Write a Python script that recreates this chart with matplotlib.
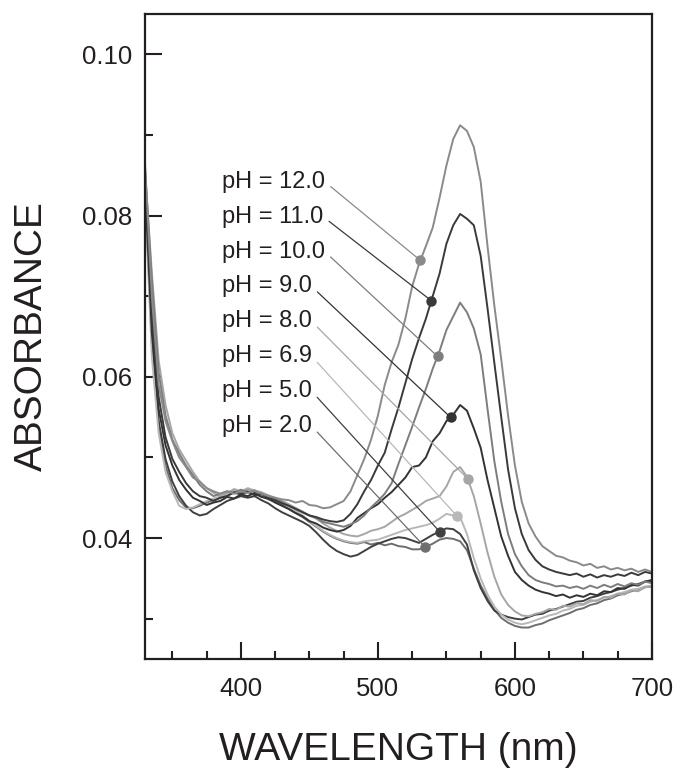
import numpy as np
import matplotlib
matplotlib.use('Agg')
import matplotlib.pyplot as plt

plt.rcParams['font.family'] = ['Liberation Sans', 'DejaVu Sans']

# wavelength grid (nm), 5 nm steps
wl = np.arange(330, 701, 5)

ph_12 = [0.0865, 0.0700, 0.0590, 0.0545, 0.0520, 0.0500, 0.0488, 0.0475, 0.0470, 0.0462,
         0.0458, 0.0455, 0.0458, 0.0455, 0.0458, 0.0456, 0.0459, 0.0455, 0.0452, 0.0450,
         0.0448, 0.0447, 0.0444, 0.0446, 0.0441, 0.0440, 0.0437, 0.0438, 0.0442, 0.0446,
         0.0458, 0.0478, 0.0498, 0.0522, 0.0552, 0.0590, 0.0618, 0.0640, 0.0672, 0.0712,
         0.0740, 0.0762, 0.0785, 0.0822, 0.0862, 0.0895, 0.0912, 0.0905, 0.0885, 0.0842,
         0.0762, 0.0688, 0.0622, 0.0552, 0.0490, 0.0445, 0.0418, 0.0402, 0.0390, 0.0384,
         0.0378, 0.0376, 0.0372, 0.0370, 0.0366, 0.0368, 0.0363, 0.0365, 0.0361, 0.0363,
         0.0360, 0.0362, 0.0358, 0.0361, 0.0358]
ph_11 = [0.0850, 0.0680, 0.0575, 0.0525, 0.0498, 0.0482, 0.0468, 0.0458, 0.0452, 0.0450,
         0.0446, 0.0450, 0.0452, 0.0457, 0.0455, 0.0458, 0.0453, 0.0455, 0.0450, 0.0447,
         0.0443, 0.0440, 0.0436, 0.0432, 0.0428, 0.0426, 0.0423, 0.0421, 0.0420, 0.0422,
         0.0430, 0.0442, 0.0458, 0.0472, 0.0490, 0.0506, 0.0535, 0.0562, 0.0592, 0.0622,
         0.0648, 0.0672, 0.0700, 0.0728, 0.0765, 0.0788, 0.0802, 0.0796, 0.0788, 0.0750,
         0.0685, 0.0617, 0.0550, 0.0485, 0.0437, 0.0405, 0.0385, 0.0373, 0.0365, 0.0361,
         0.0358, 0.0356, 0.0354, 0.0356, 0.0352, 0.0355, 0.0351, 0.0354, 0.0352, 0.0355,
         0.0353, 0.0357, 0.0354, 0.0358, 0.0356]
ph_10 = [0.0860, 0.0720, 0.0605, 0.0552, 0.0522, 0.0505, 0.0490, 0.0478, 0.0466, 0.0458,
         0.0452, 0.0455, 0.0458, 0.0456, 0.0460, 0.0457, 0.0459, 0.0454, 0.0452, 0.0448,
         0.0445, 0.0440, 0.0437, 0.0432, 0.0428, 0.0425, 0.0420, 0.0418, 0.0416, 0.0414,
         0.0417, 0.0421, 0.0428, 0.0438, 0.0446, 0.0455, 0.0468, 0.0492, 0.0515, 0.0538,
         0.0562, 0.0585, 0.0610, 0.0632, 0.0658, 0.0675, 0.0692, 0.0680, 0.0660, 0.0628,
         0.0560, 0.0495, 0.0445, 0.0405, 0.0380, 0.0365, 0.0354, 0.0348, 0.0345, 0.0343,
         0.0340, 0.0341, 0.0338, 0.0340, 0.0337, 0.0341, 0.0338, 0.0342, 0.0339, 0.0343,
         0.0340, 0.0344, 0.0342, 0.0346, 0.0344]
ph_9 = [0.0840, 0.0655, 0.0560, 0.0515, 0.0490, 0.0472, 0.0460, 0.0450, 0.0446, 0.0441,
        0.0444, 0.0446, 0.0451, 0.0449, 0.0454, 0.0452, 0.0456, 0.0451, 0.0449, 0.0444,
        0.0440, 0.0436, 0.0431, 0.0427, 0.0421, 0.0418, 0.0413, 0.0410, 0.0408, 0.0410,
        0.0415, 0.0425, 0.0431, 0.0437, 0.0442, 0.0450, 0.0457, 0.0466, 0.0475, 0.0488,
        0.0490, 0.0500, 0.0520, 0.0530, 0.0545, 0.0553, 0.0565, 0.0558, 0.0536, 0.0512,
        0.0472, 0.0437, 0.0402, 0.0378, 0.0358, 0.0348, 0.0341, 0.0336, 0.0333, 0.0331,
        0.0328, 0.0330, 0.0326, 0.0329, 0.0327, 0.0331, 0.0329, 0.0334, 0.0333, 0.0338,
        0.0337, 0.0342, 0.0341, 0.0346, 0.0347]
ph_8 = [0.0855, 0.0730, 0.0620, 0.0565, 0.0530, 0.0510, 0.0496, 0.0482, 0.0470, 0.0462,
        0.0456, 0.0452, 0.0456, 0.0460, 0.0457, 0.0461, 0.0458, 0.0456, 0.0453, 0.0450,
        0.0446, 0.0442, 0.0437, 0.0433, 0.0428, 0.0424, 0.0418, 0.0413, 0.0409, 0.0405,
        0.0403, 0.0402, 0.0405, 0.0409, 0.0411, 0.0414, 0.0420, 0.0426, 0.0430, 0.0435,
        0.0440, 0.0446, 0.0449, 0.0452, 0.0464, 0.0482, 0.0488, 0.0476, 0.0452, 0.0418,
        0.0382, 0.0352, 0.0330, 0.0317, 0.0309, 0.0304, 0.0303, 0.0306, 0.0308, 0.0312,
        0.0311, 0.0316, 0.0315, 0.0319, 0.0318, 0.0323, 0.0322, 0.0327, 0.0326, 0.0331,
        0.0330, 0.0335, 0.0334, 0.0339, 0.0340]
ph_69 = [0.0830, 0.0625, 0.0530, 0.0482, 0.0458, 0.0440, 0.0436, 0.0438, 0.0442, 0.0446,
         0.0449, 0.0452, 0.0455, 0.0461, 0.0458, 0.0462, 0.0459, 0.0457, 0.0453, 0.0449,
         0.0444, 0.0439, 0.0434, 0.0428, 0.0421, 0.0415, 0.0409, 0.0404, 0.0400, 0.0397,
         0.0395, 0.0394, 0.0396, 0.0397, 0.0398, 0.0401, 0.0404, 0.0407, 0.0410, 0.0412,
         0.0414, 0.0416, 0.0419, 0.0424, 0.0430, 0.0428, 0.0426, 0.0405, 0.0375, 0.0350,
         0.0330, 0.0315, 0.0305, 0.0299, 0.0295, 0.0293, 0.0295, 0.0298, 0.0301, 0.0304,
         0.0306, 0.0310, 0.0312, 0.0316, 0.0317, 0.0321, 0.0323, 0.0326, 0.0328, 0.0331,
         0.0333, 0.0336, 0.0337, 0.0340, 0.0341]
ph_5 = [0.0845, 0.0660, 0.0545, 0.0498, 0.0470, 0.0452, 0.0440, 0.0432, 0.0428, 0.0430,
        0.0436, 0.0441, 0.0446, 0.0449, 0.0452, 0.0450, 0.0452, 0.0447, 0.0443, 0.0437,
        0.0432, 0.0428, 0.0424, 0.0420, 0.0415, 0.0407, 0.0398, 0.0390, 0.0384, 0.0380,
        0.0377, 0.0379, 0.0384, 0.0389, 0.0393, 0.0396, 0.0399, 0.0401, 0.0400, 0.0397,
        0.0394, 0.0399, 0.0404, 0.0408, 0.0412, 0.0411, 0.0405, 0.0392, 0.0360, 0.0338,
        0.0322, 0.0310, 0.0305, 0.0302, 0.0300, 0.0299, 0.0302, 0.0305, 0.0306, 0.0310,
        0.0312, 0.0315, 0.0318, 0.0321, 0.0322, 0.0326, 0.0328, 0.0331, 0.0333, 0.0336,
        0.0338, 0.0341, 0.0343, 0.0346, 0.0348]
ph_2 = [0.0835, 0.0640, 0.0540, 0.0490, 0.0462, 0.0447, 0.0438, 0.0437, 0.0440, 0.0444,
        0.0447, 0.0450, 0.0453, 0.0456, 0.0454, 0.0457, 0.0454, 0.0452, 0.0448, 0.0445,
        0.0441, 0.0436, 0.0431, 0.0426, 0.0420, 0.0414, 0.0408, 0.0403, 0.0399, 0.0396,
        0.0394, 0.0393, 0.0395, 0.0392, 0.0394, 0.0391, 0.0393, 0.0390, 0.0389, 0.0386,
        0.0386, 0.0389, 0.0393, 0.0398, 0.0400, 0.0399, 0.0396, 0.0385, 0.0362, 0.0341,
        0.0325, 0.0311, 0.0301, 0.0295, 0.0291, 0.0289, 0.0289, 0.0292, 0.0294, 0.0298,
        0.0301, 0.0304, 0.0307, 0.0311, 0.0313, 0.0317, 0.0319, 0.0323, 0.0325, 0.0329,
        0.0331, 0.0334, 0.0336, 0.0339, 0.0340]

labels = ['pH = 12.0', 'pH = 11.0', 'pH = 10.0', 'pH = 9.0',
          'pH = 8.0', 'pH = 6.9', 'pH = 5.0', 'pH = 2.0']
spectra = [ph_12, ph_11, ph_10, ph_9, ph_8, ph_69, ph_5, ph_2]
# wavelength where each leader line touches its curve
marker_wl = [531, 539, 543.5, 553, 565.5, 558, 545, 534.5]
colors = ['#8a8a8a', '#3a3a3a', '#7d7d7d', '#333333',
          '#a6a6a6', '#b8b8b8', '#404040', '#6e6e6e']

fig = plt.figure(figsize=(6.94, 7.74), dpi=100)
ax = fig.add_axes([0.2089, 0.1486, 0.7305, 0.8333])

# low pH first so the higher curves sit on top
for spec, c in zip(spectra[::-1], colors[::-1]):
    ax.plot(wl, spec, color=c, lw=1.4)

label_x = 386
label_y0 = 0.0842
label_step = 0.00433
for i, (lab, spec, mw, c) in enumerate(zip(labels, spectra, marker_wl, colors)):
    my = np.interp(mw, wl, spec)
    ax.plot(mw, my, 'o', color=c, ms=6.5, zorder=5)
    ax.annotate(lab, xy=(mw, my), xytext=(label_x, label_y0 - i * label_step),
                fontsize=17, color='#231f20', ha='left', va='center',
                arrowprops=dict(arrowstyle='-', color=c, lw=0.9,
                                shrinkA=3, shrinkB=0, relpos=(1, 0.5)))

ax.set_xlim(330, 700)
ax.set_ylim(0.025, 0.105)
ax.set_xticks([400, 500, 600, 700])
ax.set_xticks(np.arange(350, 700, 25), minor=True)
ax.set_yticks([0.04, 0.06, 0.08, 0.10])
ax.set_yticks([0.03, 0.05, 0.07, 0.09], minor=True)
ax.set_yticklabels(['0.04', '0.06', '0.08', '0.10'])

ax.tick_params(which='both', direction='in', colors='#231f20', width=1.5,
               top=False, right=False, labelsize=18.5)
ax.tick_params(axis='y', pad=9)
ax.tick_params(axis='x', pad=13)
ax.tick_params(which='major', length=12)
ax.tick_params(which='minor', length=6)
for s in ax.spines.values():
    s.set_linewidth(1.6)
    s.set_color('#231f20')

ax.set_xlabel('WAVELENGTH (nm)', fontsize=28, labelpad=22, color='#231f20')
ax.set_ylabel('ABSORBANCE', fontsize=28, labelpad=23, color='#231f20')

plt.savefig('out.png', dpi=100)
